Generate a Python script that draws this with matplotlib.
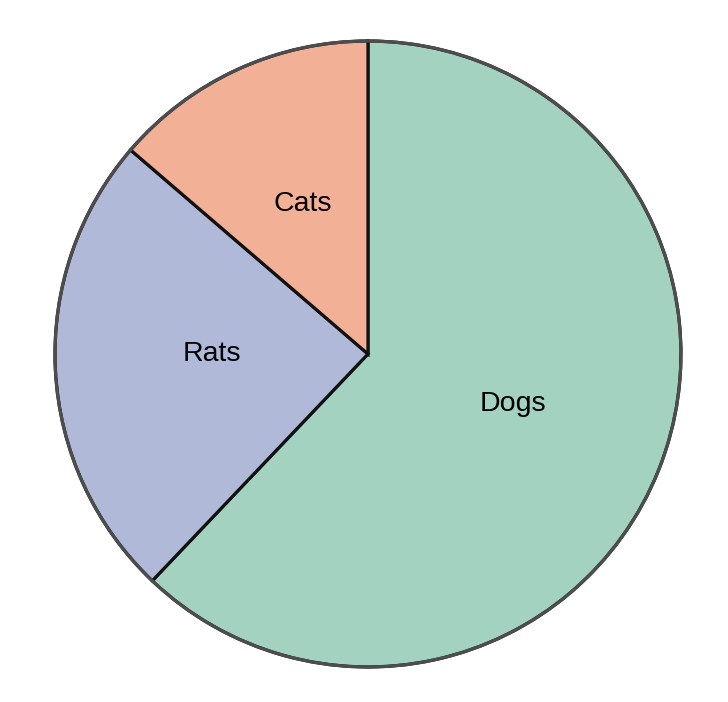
import matplotlib.pyplot as plt
from matplotlib.patches import Circle

labels = ['Dogs', 'Rats', 'Cats']
values = [62.1, 24.2, 13.7]
colors = ['#a3d2c0', '#b0b9d8', '#f2b196']

fig = plt.figure(figsize=(7.28, 7.02), dpi=100)
ax = fig.add_axes([0.0755, 0.0499, 0.8599, 0.8917])

wedges, texts = ax.pie(values, labels=labels, colors=colors, startangle=90,
                       counterclock=False, labeldistance=0.5,
                       wedgeprops=dict(edgecolor='#111111', linewidth=2.3, clip_on=False),
                       textprops=dict(fontsize=20.5, family='Liberation Sans', color='black'))
for t in texts:
    t.set_ha('center')
    t.set_va('center_baseline')
    x, y = t.get_position()
    t.set_position((x, y + 0.035))

# grey outer rim
ax.add_patch(Circle((0, 0), 1, fill=False, edgecolor='#4d4d4d', linewidth=2.3,
                    zorder=5, clip_on=False))

ax.set_xlim(-1, 1)
ax.set_ylim(-1, 1)
ax.set_aspect('equal')
ax.axis('off')

fig.savefig('out.png', dpi=100)
